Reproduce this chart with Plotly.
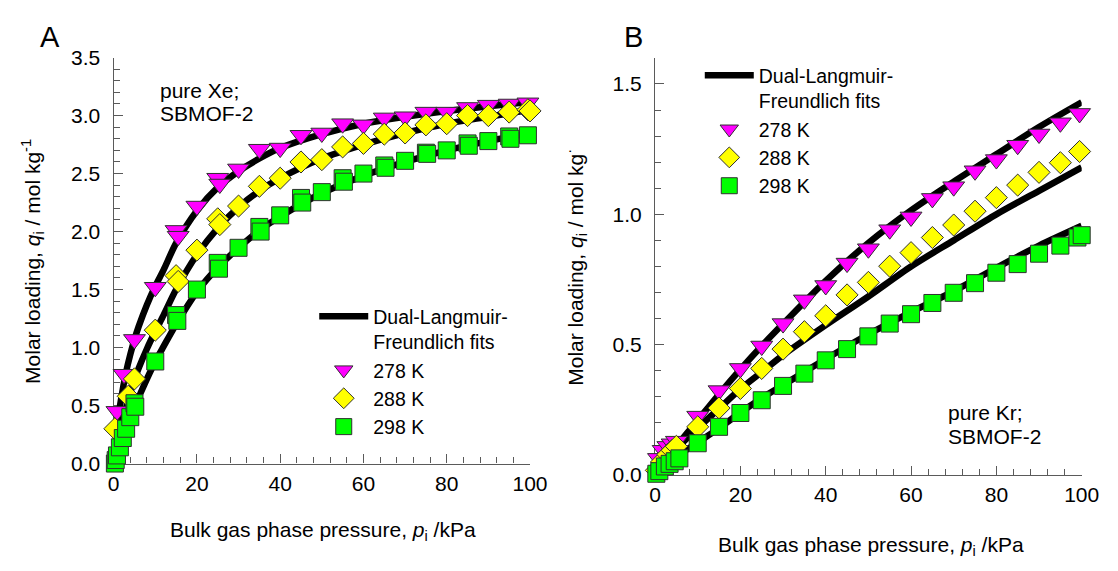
import plotly.graph_objects as go

# ---------------- Panel A : pure Xe, SBMOF-2 ----------------
xe278_p = [0.8, 2.5, 5, 10, 15, 15.5, 20, 25, 25.5, 30, 35, 40, 45, 50, 55, 60, 65, 70, 75, 80, 85, 90, 95, 99.5]
xe278_q = [0.45, 0.77, 1.07, 1.52, 2.01, 1.96, 2.22, 2.46, 2.41, 2.54, 2.71, 2.72, 2.83, 2.85, 2.93, 2.92, 2.98, 2.99, 3.03, 3.03, 3.07, 3.09, 3.10, 3.11]

xe288_p = [0.3, 3.5, 5, 10, 15, 15.5, 20, 25, 25.5, 30, 35, 40, 45, 50, 55, 60, 65, 70, 75, 80, 85, 90, 95, 99.5, 100]
xe288_q = [0.30, 0.58, 0.73, 1.15, 1.62, 1.57, 1.84, 2.11, 2.06, 2.22, 2.39, 2.46, 2.60, 2.62, 2.73, 2.76, 2.84, 2.85, 2.92, 2.93, 3.00, 3.00, 3.03, 3.05, 3.04]

xe298_p = [0.3, 0.5, 0.8, 1.5, 2.2, 3, 4, 5, 5.2, 10, 15, 15.3, 20, 25, 25.3, 30, 35, 35.3, 40, 45, 45.3, 50,
           55, 55.3, 60, 65, 65.3, 70, 75, 75.3, 80, 85, 85.3, 90, 95, 95.3, 99.5]
xe298_q = [0.00, 0.03, 0.07, 0.14, 0.22, 0.30, 0.40, 0.52, 0.49, 0.88, 1.28, 1.23, 1.50, 1.73, 1.68, 1.86, 2.04, 2.00, 2.14, 2.29, 2.25, 2.34,
           2.46, 2.43, 2.50, 2.57, 2.55, 2.61, 2.68, 2.67, 2.70, 2.76, 2.74, 2.78, 2.82, 2.80, 2.83]

xefit278_p = [0, 0.5, 1, 2, 3, 4, 5, 6, 8, 10, 12, 15, 20, 25, 30, 35, 40, 50, 60, 70, 80, 90, 100]
xefit278_q = [0, 0.20, 0.37, 0.60, 0.79, 0.94, 1.07, 1.18, 1.37, 1.53, 1.67, 1.90, 2.18, 2.38, 2.52, 2.63, 2.72, 2.84, 2.93, 2.99, 3.04, 3.08, 3.12]
xefit288_p = [0, 1, 2, 3, 4, 5, 6, 8, 10, 12, 15, 20, 25, 30, 35, 40, 50, 60, 70, 80, 90, 100]
xefit288_q = [0, 0.18, 0.34, 0.48, 0.61, 0.72, 0.82, 0.99, 1.14, 1.28, 1.50, 1.80, 2.03, 2.21, 2.35, 2.46, 2.63, 2.75, 2.85, 2.93, 2.99, 3.05]
xefit298_p = [0, 1, 2, 3, 4, 5, 6, 8, 10, 12, 15, 20, 25, 30, 35, 40, 50, 60, 70, 80, 90, 100]
xefit298_q = [0, 0.10, 0.20, 0.30, 0.40, 0.49, 0.57, 0.73, 0.88, 1.01, 1.20, 1.48, 1.69, 1.86, 2.01, 2.13, 2.33, 2.48, 2.60, 2.70, 2.78, 2.85]

# ---------------- Panel B : pure Kr, SBMOF-2 ----------------
kr278_p = [0.8, 1.9, 3, 4, 5, 10, 15, 20, 25, 30, 35, 40, 45, 50, 55, 60, 65, 70, 75, 80, 85, 90, 95, 99.5, 100.3]
kr278_q = [0.064, 0.095, 0.11, 0.12, 0.13, 0.226, 0.324, 0.409, 0.495, 0.581, 0.672, 0.727, 0.813, 0.868, 0.941, 0.990, 1.061,
           1.106, 1.167, 1.210, 1.265, 1.308, 1.351, 1.387, 1.39]

kr288_p = [0.3, 1.5, 3, 4, 5, 10, 15, 20, 25, 30, 35, 40, 45, 50, 55, 60, 65, 70, 75, 80, 85, 90, 95, 99.5, 100.5]
kr288_q = [0.018, 0.05, 0.079, 0.095, 0.11, 0.185, 0.257, 0.332, 0.409, 0.483, 0.550, 0.611, 0.691, 0.739, 0.801, 0.853, 0.911,
           0.959, 1.012, 1.064, 1.112, 1.161, 1.198, 1.241, 1.235]

kr298_p = [0.3, 1, 2.3, 3.4, 4.6, 5.7, 10, 15, 20, 25, 30, 35, 40, 45, 50, 55, 60, 65, 70, 75, 80, 85, 90, 95, 99, 100]
kr298_q = [0.005, 0.015, 0.033, 0.043, 0.053, 0.064, 0.122, 0.185, 0.238, 0.287, 0.342, 0.389, 0.440, 0.483, 0.532, 0.581, 0.617,
           0.660, 0.699, 0.736, 0.776, 0.809, 0.849, 0.880, 0.911, 0.920]

krfit278_p = [0, 5, 10, 15, 20, 25, 30, 40, 50, 60, 70, 80, 90, 100]
krfit278_q = [0, 0.11, 0.21, 0.31, 0.405, 0.495, 0.58, 0.745, 0.89, 1.015, 1.125, 1.23, 1.335, 1.43]
krfit288_p = [0, 5, 10, 15, 20, 25, 30, 40, 50, 60, 70, 80, 90, 100]
krfit288_q = [0, 0.10, 0.18, 0.255, 0.33, 0.395, 0.46, 0.575, 0.685, 0.80, 0.90, 1.00, 1.09, 1.18]
krfit298_p = [0, 5, 10, 15, 20, 25, 30, 40, 50, 60, 70, 80, 90, 100]
krfit298_q = [0, 0.07, 0.125, 0.18, 0.24, 0.295, 0.345, 0.445, 0.54, 0.625, 0.705, 0.795, 0.88, 0.956]

x_ticks = [0, 20, 40, 60, 80, 100]

FONT = "Liberation Sans, Arial, sans-serif"
FS = 21
LEGFS = 19.5
MAG, YEL, GRN = "#FF00FF", "#FFFF00", "#00FF00"
EDGE = "#303030"
AXC = "#5a5a5a"

fig = go.Figure()


def add_panel(xa, ya, leg, fits, sets):
    first = True
    for (p, q) in fits:
        fig.add_trace(go.Scatter(
            x=p, y=q, mode="lines", line=dict(color="black", width=6.5, shape="spline", smoothing=0.8),
            name="Dual-Langmuir-<br>Freundlich fits", showlegend=first, legend=leg,
            xaxis=xa, yaxis=ya, cliponaxis=False, hoverinfo="skip"))
        first = False
    for (p, q, name, sym, col, sz) in sets:
        fig.add_trace(go.Scatter(
            x=p, y=q, mode="markers", name=name, legend=leg,
            marker=dict(symbol=sym, size=sz, color=col, line=dict(color=EDGE, width=1)),
            xaxis=xa, yaxis=ya, cliponaxis=False))


add_panel("x", "y", "legend",
          [(xefit278_p, xefit278_q), (xefit288_p, xefit288_q), (xefit298_p, xefit298_q)],
          [(xe278_p, xe278_q, "278 K", "triangle-down", MAG, 19),
           (xe288_p, xe288_q, "288 K", "diamond", YEL, 17),
           (xe298_p, xe298_q, "298 K", "square", GRN, 17)])
add_panel("x2", "y2", "legend2",
          [(krfit278_p, krfit278_q), (krfit288_p, krfit288_q), (krfit298_p, krfit298_q)],
          [(kr278_p, kr278_q, "278 K", "triangle-down", MAG, 19),
           (kr288_p, kr288_q, "288 K", "diamond", YEL, 17),
           (kr298_p, kr298_q, "298 K", "square", GRN, 17)])


def xax(domain, anchor):
    return dict(domain=domain, anchor=anchor, range=[0, 100], tickmode="array", tickvals=x_ticks,
                ticktext=[str(v) for v in x_ticks],
                showline=True, linecolor=AXC, linewidth=1.3, ticks="inside", ticklen=9, tickwidth=1.3,
                tickcolor=AXC, showgrid=False, zeroline=False, layer="below traces",
                minor=dict(dtick=4, tick0=0, ticks="inside", ticklen=6, tickwidth=1.2, tickcolor=AXC, showgrid=False),
                tickfont=dict(family=FONT, size=FS, color="black"), ticklabelstandoff=1)


def yax(domain, anchor, top):
    return dict(domain=domain, anchor=anchor, range=[0, top], tickmode="linear", tick0=0, dtick=0.5, tickformat=".1f",
                showline=True, linecolor=AXC, linewidth=1.3, ticks="inside", ticklen=9, tickwidth=1.3,
                tickcolor=AXC, showgrid=False, zeroline=False, layer="below traces",
                minor=dict(dtick=0.1, tick0=0, ticks="inside", ticklen=6, tickwidth=1.2, tickcolor=AXC, showgrid=False),
                tickfont=dict(family=FONT, size=FS, color="black"), ticklabelstandoff=8)


W, H = 1118, 571


def px(x):
    return x / W


def py(y):
    return 1 - y / H


ann = []


def text(x, y, s, size=FS, xanchor="center", angle=0):
    ann.append(dict(x=px(x), y=py(y), xref="paper", yref="paper", text=s, showarrow=False,
                    xanchor=xanchor, yanchor="middle", textangle=angle,
                    font=dict(family=FONT, size=size, color="black")))


text(45, 26, "A", size=29)
text(641, 26, "B", size=29)
text(155, 82, "pure Xe;", xanchor="left")
text(155, 106, "SBMOF-2", xanchor="left")
text(961, 417, "pure Kr;", xanchor="left")
text(961, 442, "SBMOF-2", xanchor="left")
text(324, 541, "Bulk gas phase pressure, <i>p</i><sub>i</sub> /kPa")
text(884, 556, "Bulk gas phase pressure, <i>p</i><sub>i</sub> /kPa")
text(27, 260, "Molar loading, <i>q</i><sub>i</sub> / mol kg<sup>-1</sup>", angle=-90)
text(582, 266, "Molar loading, <i>q</i><sub>i</sub> / mol kg<sup>·</sup>", angle=-90)

legstyle = dict(font=dict(family=FONT, size=LEGFS, color="black"), bgcolor="rgba(0,0,0,0)", borderwidth=0,
                valign="top", itemwidth=49, tracegroupgap=0, xanchor="left", yanchor="top")

fig.update_layout(
    width=W, height=H, margin=dict(l=0, r=0, t=0, b=0),
    paper_bgcolor="white", plot_bgcolor="white",
    font=dict(family=FONT, size=FS, color="black"),
    xaxis=xax([110 / W, 535.5 / W], "y"),
    yaxis=yax([(H - 470.5) / H, (H - 47.5) / H], "x", 3.5),
    xaxis2=xax([663.3 / W, 1099.3 / W], "y2"),
    yaxis2=yax([(H - 482.5) / H, (H - 47.8) / H], "x2", 1.6),
    legend=dict(x=px(315), y=py(297), **legstyle),
    legend2=dict(x=px(709), y=py(46), **legstyle),
    annotations=ann,
)

fig.write_html("out.html")
